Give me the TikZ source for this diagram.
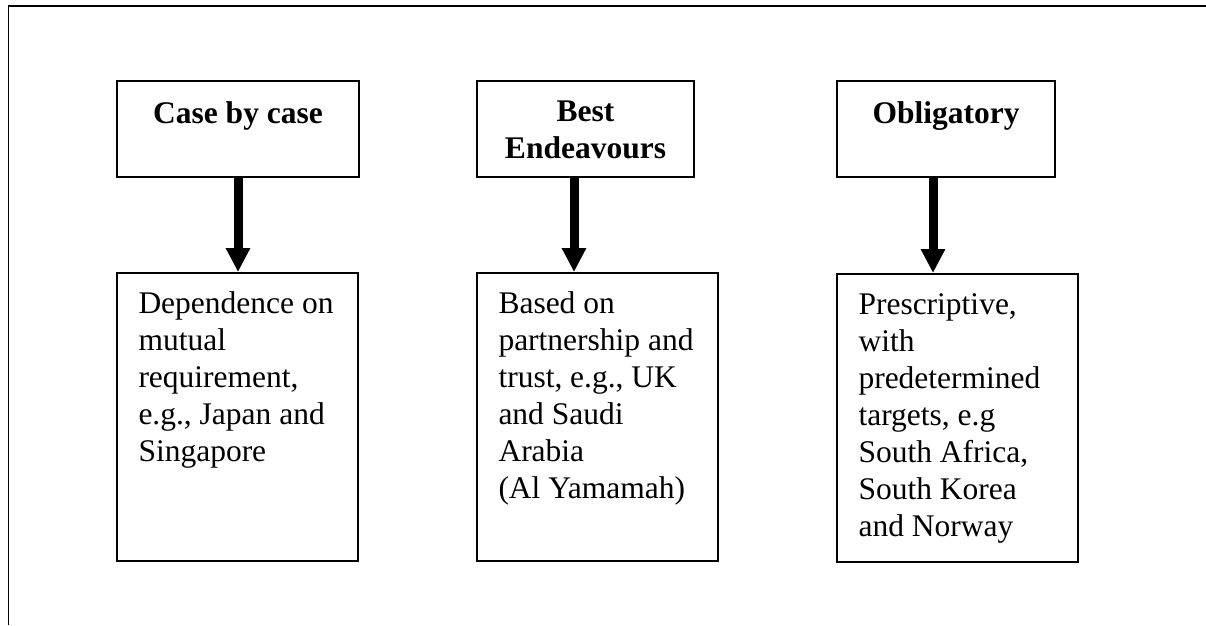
\documentclass[tikz,border=0pt]{standalone}
\usepackage{fontspec}
\setmainfont{Liberation Serif}
\usetikzlibrary{arrows.meta}

% box contents: fixed-size paragraph boxes, first baseline set by a strut
\newcommand{\headtext}[3]{\parbox[t][96pt][t]{#1}{\centering\bfseries\rule{0pt}{#2}#3}}
\newcommand{\bodytext}[2]{\parbox[t][288pt][t]{241pt}{\raggedright\leftskip=21.5pt\rule{0pt}{40pt}#2}}

\begin{document}
\begin{tikzpicture}[x=1pt,y=-1pt,
  every node/.style={font=\fontsize{31.5pt}{37pt}\selectfont},
  headbox/.style={draw,line width=2pt,inner sep=0pt,anchor=north west},
  bodybox/.style={draw,line width=2pt,inner sep=0pt,anchor=north west},
  flow/.style={line width=9pt,-{Triangle[width=23pt,length=24pt]}},
  frameline/.style={line width=1.5pt}]
\useasboundingbox (0,0) rectangle (1206,625);

% outer frame (left and top edges)
\draw[frameline] (8.5,625) -- (8.5,6) -- (1206,6);

% approaches
\node[headbox] (t1) at (116,80) {\headtext{242pt}{42pt}{Case by case}};
\node[headbox] (t2) at (476,80) {\headtext{217pt}{40pt}{Best\\Endeavours}};
\node[headbox] (t3) at (836,80) {\headtext{218pt}{42pt}{Obligatory}};

% descriptions
\node[bodybox] (b1) at (116,272) {\bodytext{}{Dependence on\\mutual\\requirement,\\e.g., Japan and\\Singapore}};
\node[bodybox] (b2) at (476,272) {\bodytext{}{Based on\\partnership and\\trust, e.g., UK\\and Saudi\\Arabia\\(Al Yamamah)}};
\node[bodybox] (b3) at (836,273) {\bodytext{}{Prescriptive,\\with\\predetermined\\targets, e.g\\South Africa,\\South Korea\\and Norway}};

% arrows
\coordinate (a1) at (t1.south);
\coordinate (a2) at ([xshift=-11.5pt]t2.south);
\coordinate (a3) at ([xshift=-13pt]t3.south);
\draw[flow] (a1) -- (a1 |- b1.north);
\draw[flow] (a2) -- (a2 |- b2.north);
\draw[flow] (a3) -- (a3 |- b3.north);
\end{tikzpicture}
\end{document}
